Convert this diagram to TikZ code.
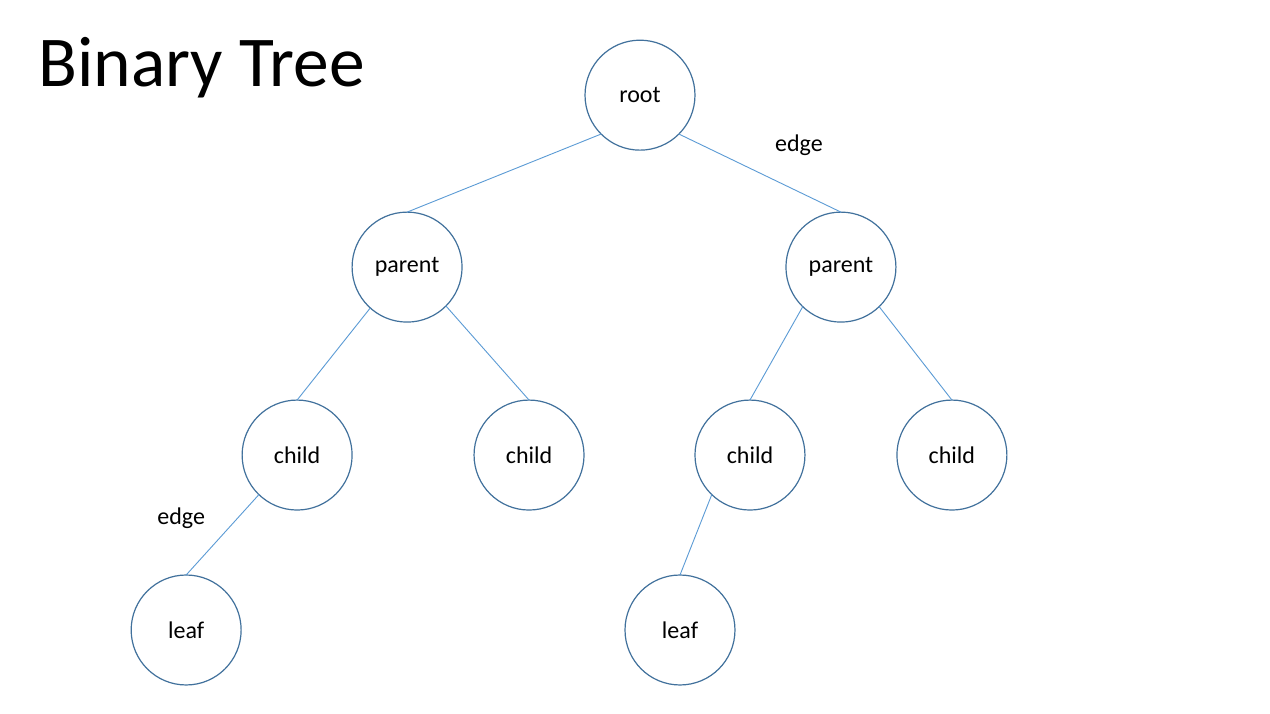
\documentclass[tikz,border=0pt]{standalone}
\usepackage{fontspec}
\setmainfont{Carlito}
\usepackage{tikz}
\definecolor{nodeline}{HTML}{41719C}
\definecolor{edgeline}{HTML}{5B9BD5}
\tikzset{
  treenode/.style={circle,draw=nodeline,line width=1.2pt,minimum size=110pt,inner sep=0pt,outer sep=0pt,font=\fontsize{24}{28}\selectfont},
  treeedge/.style={draw=edgeline,line width=0.9pt},
  edgelabel/.style={font=\fontsize{24}{28}\selectfont}
}
\begin{document}
\begin{tikzpicture}[scale=1.000000,x=1pt,y=1pt]
\filldraw[color=white] (0.000000, 0.000000) rectangle (1270.000000, 713.000000);
% Title
\node[anchor=base west,inner sep=0pt,font=\fontsize{71.5}{86}\selectfont] (title) at (38.000000, 627.000000) {Binary Tree};
% Drawing nodes
% Level 0
\node[treenode] (root) at (640.000000, 618.000000) {root};
% Level 1
\node[treenode] (parentL) at (407.000000, 446.000000) {parent};
\node[treenode] (parentR) at (841.000000, 446.000000) {parent};
% Level 2
\node[treenode] (childA) at (297.000000, 258.000000) {child};
\node[treenode] (childB) at (529.000000, 258.000000) {child};
\node[treenode] (childC) at (750.000000, 258.000000) {child};
\node[treenode] (childD) at (952.000000, 258.000000) {child};
% Level 3
\node[treenode] (leafA) at (186.000000, 83.000000) {leaf};
\node[treenode] (leafB) at (680.000000, 83.000000) {leaf};
% Done with nodes; drawing edges
\draw[treeedge] (root.225) -- (parentL.north);
\draw[treeedge] (root.-45) -- (parentR.north);
\draw[treeedge] (parentL.228) -- (childA.north);
\draw[treeedge] (parentL.-45) -- (childB.north);
\draw[treeedge] (parentR.226) -- (childC.north);
\draw[treeedge] (parentR.-46) -- (childD.north);
\draw[treeedge] (childA.226) -- (leafA.north);
\draw[treeedge] (childC.226) -- (leafB.north);
% Done with edges; drawing labels
\node[edgelabel] (edgeR) at (799.000000, 568.000000) {edge};
\node[edgelabel] (edgeL) at (181.000000, 195.000000) {edge};
\end{tikzpicture}
\end{document}
